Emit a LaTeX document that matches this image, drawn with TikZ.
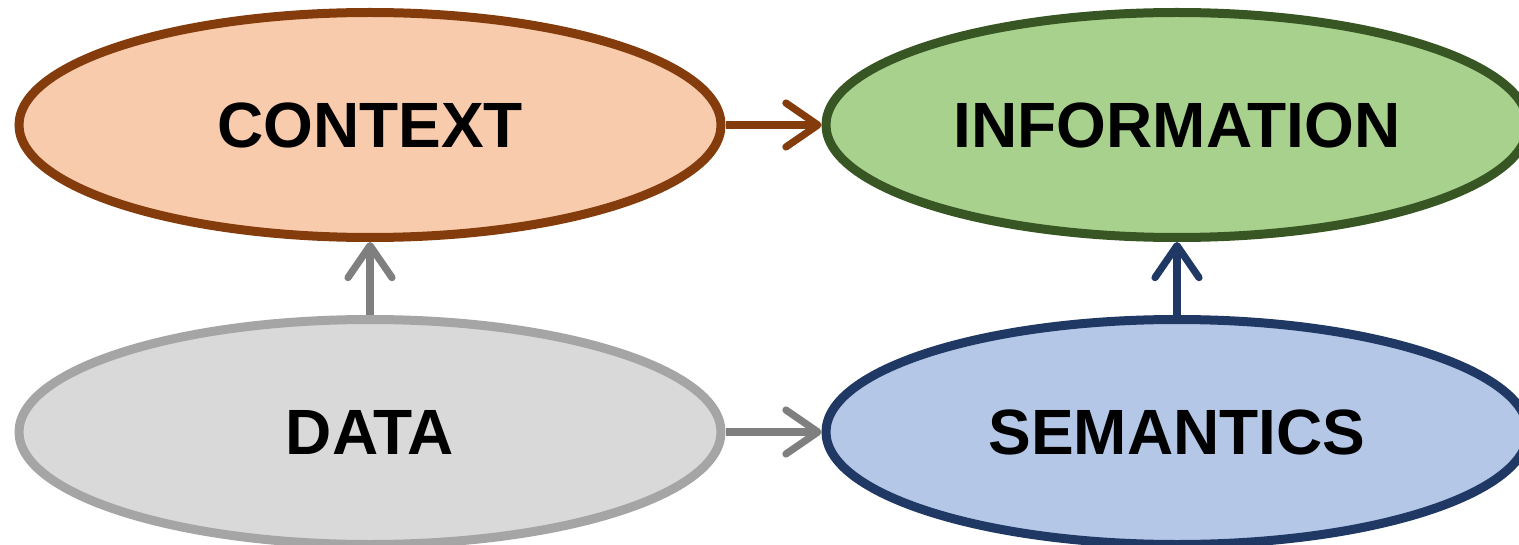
\documentclass[tikz,border=0pt]{standalone}
\usepackage{fontspec}
\setmainfont{Liberation Sans}
\usetikzlibrary{arrows.meta,shapes.geometric}

\definecolor{ctxfill}{HTML}{F8CBAD}
\definecolor{ctxline}{HTML}{843C0C}
\definecolor{inffill}{HTML}{A9D18E}
\definecolor{infline}{HTML}{375623}
\definecolor{datfill}{HTML}{D9D9D9}
\definecolor{datline}{HTML}{A5A5A5}
\definecolor{datarrow}{HTML}{7F7F7F}
\definecolor{semfill}{HTML}{B4C7E7}
\definecolor{semline}{HTML}{1F3864}

\begin{document}
\begin{tikzpicture}[x=0.5pt, y=-0.5pt,
    blob/.style={ellipse, line width=4.5pt, minimum width=351pt, minimum height=112.5pt,
        font=\fontsize{32}{38}\selectfont\bfseries, inner sep=0pt},
    link/.style={line width=3.6pt, -{Straight Barb[length=16pt, width=22pt, round]}}]

    % 画布大小
    \useasboundingbox (0,0) rectangle (1519,545);
    \clip (0,0) rectangle (1519,545);

    % 1. 四个椭圆
    \node[blob, draw=ctxline, fill=ctxfill] (context) at (370,125) {CONTEXT};
    \node[blob, draw=infline, fill=inffill] (information) at (1177,125) {INFORMATION};
    \node[blob, draw=datline, fill=datfill] (data) at (370,432) {DATA};
    \node[blob, draw=semline, fill=semfill] (semantics) at (1177,432) {SEMANTICS};

    % 2. 箭头
    \draw[link, ctxline] (context.east) -- (information.west);
    \draw[link, datarrow] (data.east) -- (semantics.west);
    \draw[link, datarrow] (data.north) -- (context.south);
    \draw[link, semline] (semantics.north) -- (information.south);

\end{tikzpicture}
\end{document}
